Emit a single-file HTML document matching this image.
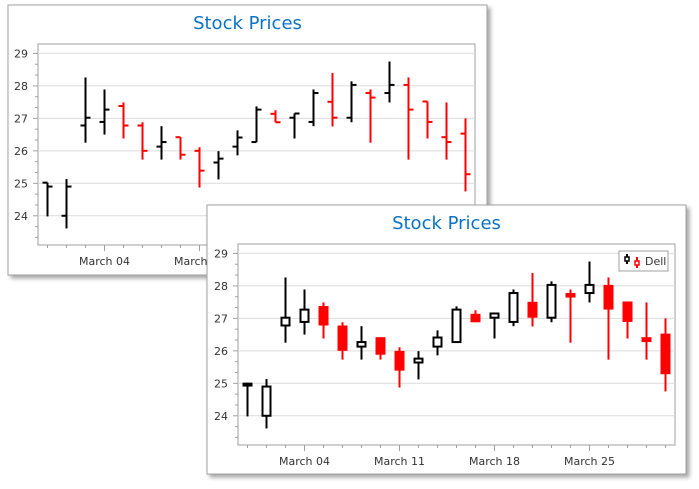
<!DOCTYPE html>
<html><head><meta charset="utf-8"><style>
html,body{margin:0;padding:0;background:#fff;width:699px;height:489px;overflow:hidden}
svg{display:block;font-family:"DejaVu Sans","Liberation Sans",sans-serif}
</style></head><body>
<svg id="c" width="699" height="489" xmlns="http://www.w3.org/2000/svg">
<defs><filter id="sh" x="-5%" y="-5%" width="115%" height="115%"><feDropShadow dx="3" dy="3" stdDeviation="2" flood-color="#000" flood-opacity="0.35"/></filter></defs>
</svg>
<script>
const dates=["Feb 27","Feb 28","Mar 01","March 04","Mar 05","Mar 06","Mar 07","Mar 08","March 11","Mar 12","Mar 13","Mar 14","Mar 15","March 18","Mar 19","Mar 20","Mar 21","Mar 22","March 25","Mar 26","Mar 27","Mar 28","Mar 29"];
const openV=[25.02,24.0,26.78,26.89,27.38,26.78,26.13,26.42,26.0,25.64,26.13,26.27,27.14,27.02,26.89,27.51,27.02,27.78,27.78,28.03,27.52,26.42,26.53];
const highV=[25.02,25.13,28.26,27.89,27.49,26.88,26.76,26.42,26.11,25.99,26.63,27.37,27.25,27.15,27.89,28.4,28.14,27.89,28.75,28.26,27.52,27.49,27.0];
const lowV=[23.98,23.61,26.25,26.5,26.38,25.73,25.73,25.73,24.87,25.12,25.86,26.27,26.88,26.38,26.76,26.75,26.88,26.25,27.49,25.73,26.38,25.73,24.75];
const closeV=[24.9,24.9,27.02,27.27,26.78,26.0,26.27,25.88,25.39,25.76,26.41,27.27,26.88,27.15,27.78,27.02,28.03,27.64,28.03,27.27,26.89,26.27,25.28];
const yTicks=[24,25,26,27,28,29];
const majorIdx=[3,8,13,18];
const svg=document.getElementById('c');const NS="http://www.w3.org/2000/svg";
function mk(t,a,p){const e=document.createElementNS(NS,t);for(const k in a)e.setAttribute(k,a[k]);(p||svg).appendChild(e);return e;}
function panel(px,py,pw,ph,plx,ply,plw,plh,kind,name){
 const g=mk('g',{});
 
 
 mk('rect',{x:px,y:py,width:pw,height:ph,fill:'#fff',stroke:'#a0a0a0','stroke-width':1,filter:'url(#sh)'},g);
 const t=mk('text',{x:px+pw/2,y:py+24,'text-anchor':'middle','font-size':18,fill:'#0a72c6'},g);t.textContent='Stock Prices';
 
 
 const yMin=23.1,yMax=29.29,n=dates.length,step=plw/n;
 const Y=v=>ply+plh-(v-yMin)/(yMax-yMin)*plh;
 const X=i=>plx+(i+0.5)*step;
 mk('rect',{x:plx,y:ply,width:plw,height:plh,fill:'#fff',stroke:'#a0a0a0'},g);
 for(const v of yTicks){const y=Y(v);
  const gl=mk('line',{x1:plx,x2:plx+plw,y1:y,y2:y,stroke:'#dcdcdc'},g);
  
  
  mk('line',{x1:plx-5,x2:plx,y1:y,y2:y,stroke:'#a0a0a0'},g);
  const l=mk('text',{x:plx-10,y:y+4,'text-anchor':'end','font-size':11,fill:'#333'},g);l.textContent=v;
  
  
 }
 for(let v=23+1/3;v<yMax;v+=1/3){if(Math.abs(v-Math.round(v))<0.05)continue;const y=Y(v);mk('line',{x1:plx-3,x2:plx,y1:y,y2:y,stroke:'#a0a0a0'},g);}
 for(let i=0;i<n;i++){const x=X(i);const mj=majorIdx.includes(i);
  mk('line',{x1:x,x2:x,y1:ply+plh,y2:ply+plh+(mj?6:3),stroke:'#a0a0a0'},g);
  if(mj){const l=mk('text',{x:x,y:ply+plh+20,'text-anchor':'middle','font-size':11,fill:'#333'},g);l.textContent=dates[i];
   
   }
 }
 for(let i=0;i<n;i++){const x=X(i);const dn=closeV[i]<openV[i];const col=(dn&&i>0)?'#ff0000':'#000';
  const s=mk('g',{},g);
  
  
  if(kind==='ohlc'){
   mk('line',{x1:x,x2:x,y1:Y(highV[i]),y2:Y(lowV[i]),stroke:col,'stroke-width':2},s);
   mk('line',{x1:x-5,x2:x,y1:Y(openV[i]),y2:Y(openV[i]),stroke:col,'stroke-width':2},s);
   mk('line',{x1:x,x2:x+5,y1:Y(closeV[i]),y2:Y(closeV[i]),stroke:col,'stroke-width':2},s);
  } else {
   const top=Y(Math.max(openV[i],closeV[i])),bot=Y(Math.min(openV[i],closeV[i]));
   mk('line',{x1:x,x2:x,y1:Y(highV[i]),y2:Y(lowV[i]),stroke:col,'stroke-width':2},s);
   if(dn) mk('rect',{x:x-5,y:top,width:10,height:Math.max(bot-top,2),fill:col},s);
   else mk('rect',{x:x-4,y:top,width:8,height:Math.max(bot-top,2),fill:'#fff',stroke:col,'stroke-width':2},s);
  }
 }
 return g;
}
panel(8,5,479,270,38,44,437,201,'ohlc','ohlc-chart-panel');
const p2=panel(207,205,479,269,238,244,437,201,'candle','candlestick-chart-panel');
const lg=mk('g',{},p2);


mk('rect',{x:619,y:251,width:49,height:20,fill:'#fff',stroke:'#a0a0a0'},lg);
mk('line',{x1:627,x2:627,y1:254,y2:264,stroke:'#000','stroke-width':2},lg);
mk('rect',{x:625,y:257,width:4,height:4,fill:'#fff',stroke:'#000','stroke-width':1.5},lg);
mk('line',{x1:637,x2:637,y1:257,y2:268,stroke:'#f00','stroke-width':2},lg);
mk('rect',{x:635,y:261,width:4,height:4,fill:'#fff',stroke:'#f00','stroke-width':1.5},lg);
const lt=mk('text',{x:645,y:265,'font-size':11,fill:'#333'},lg);lt.textContent='Dell';


</script>
</body></html>
